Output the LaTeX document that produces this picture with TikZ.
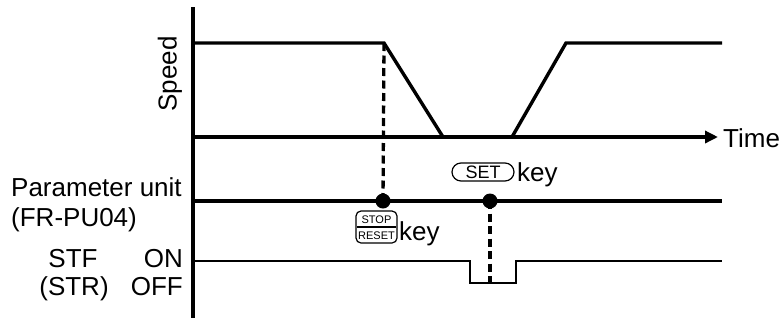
\documentclass[tikz,border=0pt]{standalone}
\usepackage{fontspec}
\setmainfont{Liberation Sans}
\usetikzlibrary{arrows.meta}
\begin{document}
\begin{tikzpicture}[x=1pt,y=-1pt,
  lbl/.style={inner sep=0pt, font=\fontsize{26}{30}\selectfont},
  wave/.style={line width=3.4pt, line join=miter},
  pline/.style={line width=4.8pt},
  sline/.style={line width=2.8pt, line join=miter},
  dashln/.style={line width=3.3pt, dash pattern=on 8pt off 4.5pt},
  dotnode/.style={circle, fill=black, inner sep=0pt, minimum size=15pt},
  keybox/.style={draw, line width=1.2pt, inner sep=0pt}]
\useasboundingbox (0,0) rectangle (783,322);
% axis
\coordinate (axtop) at (193,7);
\coordinate (axbot) at (193,318);
\draw[line width=3.8pt] (axtop) -- (axbot);
% speed waveform
\coordinate (s0) at (193,43);
\coordinate (s1) at (384,43);
\coordinate (s2) at (443,137);
\coordinate (s3) at (512,137);
\coordinate (s4) at (566,43);
\coordinate (s5) at (722,43);
\draw[wave] (s0) -- (s1) -- (s2);
\draw[wave] (s3) -- (s4) -- (s5);
% time axis
\coordinate (t0) at (193,137);
\coordinate (t1) at (718,137);
\draw[wave, -{Triangle[length=13pt,width=12pt]}] (t0) -- (t1);
\node[lbl, anchor=west] (time) at (723,138) {Time};
\node[lbl, rotate=90] (speed) at (170,74) {Speed};
% parameter unit line
\coordinate (p0) at (193,201);
\coordinate (p1) at (722,201);
\draw[pline] (p0) -- (p1);
\node[dotnode] (d1) at (383,201) {};
\node[dotnode] (d2) at (490,201) {};
% STF waveform
\coordinate (f0) at (193,261);
\coordinate (f1) at (470,261);
\coordinate (f2) at (470,283);
\coordinate (f3) at (516,283);
\coordinate (f4) at (516,261);
\coordinate (f5) at (722,261);
\draw[sline] (f0) -- (f1) -- (f2) -- (f3) -- (f4) -- (f5);
% dashed lines
\draw[dashln] (s1) -- (d1.center);
\coordinate (dl2) at (490,283);
\draw[dashln] (d2.center) -- (dl2);
% labels
\node[lbl, anchor=base west] (pu) at (11,196) {Parameter unit};
\node[lbl, anchor=base west] (fr) at (11,226) {(FR-PU04)};
\node[lbl, anchor=base] (stf) at (73,267) {STF};
\node[lbl, anchor=base east] (on) at (183,267) {ON};
\node[lbl, anchor=base] (str) at (74,295) {(STR)};
\node[lbl, anchor=base east] (off) at (183,295) {OFF};
% SET key
\node[keybox, rounded corners=9pt, minimum width=62pt, minimum height=18pt,
      font=\fontsize{18}{19}\selectfont] (setk) at (483,172) {SET};
\node[lbl, anchor=base west] (setkey) at (517,181) {key};
% STOP/RESET key
\node[keybox, rounded corners=5pt, minimum width=41pt, minimum height=32pt] (stopk) at (376.5,227) {};
\node[inner sep=0pt, font=\fontsize{11}{12}\selectfont] (stoptxt) at (376.5,219.5) {STOP};
\node[inner sep=0pt, font=\fontsize{11}{12}\selectfont] (resettxt) at (376.5,235.5) {RESET};
\draw[line width=1.2pt] ([xshift=2pt]stopk.west) -- ([xshift=-2pt]stopk.east);
\node[lbl, anchor=base west] (stopkey) at (399,240) {key};
\end{tikzpicture}
\end{document}
